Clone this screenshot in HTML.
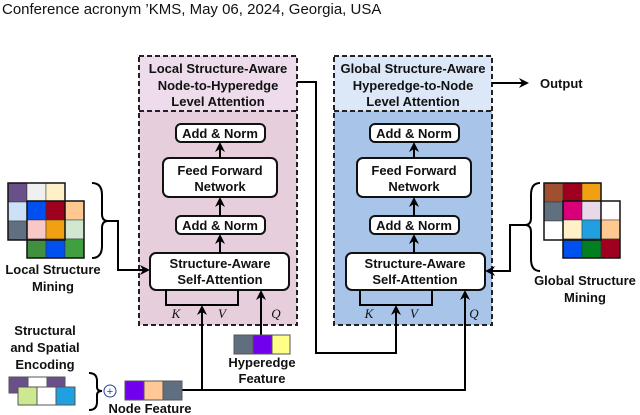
<!DOCTYPE html>
<html><head><meta charset="utf-8"><style>
body{margin:0;background:#fff}
svg{display:block}
text{font-family:"Liberation Sans",sans-serif;font-weight:bold;font-size:13px;fill:#111;text-anchor:middle}
.it{font-family:"Liberation Serif",serif;font-style:italic;font-weight:normal;font-size:13px}
</style></head><body>
<svg width="640" height="415" viewBox="0 0 640 415" xmlns="http://www.w3.org/2000/svg">
<defs><marker id="a" markerWidth="10" markerHeight="10" refX="8" refY="5" orient="auto" markerUnits="userSpaceOnUse"><path d="M0,0 L10,5 L0,10 L3,5z" fill="#000"/></marker></defs>
<text x="2" y="14" style="text-anchor:start;font-weight:normal;font-size:15px;font-family:'Liberation Sans',sans-serif">Conference acronym ’KMS, May 06, 2024, Georgia, USA</text>

<rect x="139" y="56" width="158" height="55" fill="#eedcec"/>
<rect x="139" y="111" width="158" height="214" fill="#e6cedd"/>
<rect x="139" y="56" width="158" height="269" fill="none" stroke="#222" stroke-width="2" stroke-dasharray="5,3"/>
<line x1="139" y1="111" x2="297" y2="111" stroke="#222" stroke-width="2" stroke-dasharray="5,3"/>
<rect x="334" y="56" width="158" height="55" fill="#dce8f8"/>
<rect x="334" y="111" width="158" height="214" fill="#a8c4e8"/>
<rect x="334" y="56" width="158" height="269" fill="none" stroke="#222" stroke-width="2" stroke-dasharray="5,3"/>
<line x1="334" y1="111" x2="492" y2="111" stroke="#222" stroke-width="2" stroke-dasharray="5,3"/>

<text x="218" y="73">Local Structure-Aware</text>
<text x="218" y="90">Node-to-Hyperedge</text>
<text x="218" y="106">Level Attention</text>
<text x="413" y="73">Global Structure-Aware</text>
<text x="413" y="90">Hyperedge-to-Node</text>
<text x="413" y="106">Level Attention</text>

<g stroke="#111" stroke-width="2" fill="#fff">
<rect x="176" y="124" width="89" height="18" rx="5"/>
<rect x="163" y="158" width="114" height="39" rx="6"/>
<rect x="176" y="216" width="89" height="18" rx="5"/>
<rect x="150" y="253" width="139" height="37" rx="6"/>
<rect x="370" y="124" width="89" height="18" rx="5"/>
<rect x="357" y="158" width="114" height="39" rx="6"/>
<rect x="370" y="216" width="89" height="18" rx="5"/>
<rect x="346" y="253" width="139" height="37" rx="6"/>
</g>
<text x="220" y="138">Add &amp; Norm</text>
<text x="220" y="175">Feed Forward</text>
<text x="220" y="191">Network</text>
<text x="220" y="230">Add &amp; Norm</text>
<text x="220" y="268">Structure-Aware</text>
<text x="220" y="284">Self-Attention</text>
<text x="414" y="138">Add &amp; Norm</text>
<text x="414" y="175">Feed Forward</text>
<text x="414" y="191">Network</text>
<text x="414" y="230">Add &amp; Norm</text>
<text x="415" y="268">Structure-Aware</text>
<text x="415" y="284">Self-Attention</text>

<g stroke="#000" stroke-width="2" fill="none">
<line x1="220" y1="216" x2="220" y2="199" marker-end="url(#a)"/>
<line x1="220" y1="158" x2="220" y2="144" marker-end="url(#a)"/>
<line x1="220" y1="253" x2="220" y2="236" marker-end="url(#a)"/>
<line x1="414" y1="216" x2="414" y2="199" marker-end="url(#a)"/>
<line x1="414" y1="158" x2="414" y2="144" marker-end="url(#a)"/>
<line x1="414" y1="253" x2="414" y2="236" marker-end="url(#a)"/>
<path d="M166 290 V305 H238 V290"/>
<path d="M360 290 V305 H432 V290"/>
<line x1="202" y1="390" x2="202" y2="307" marker-end="url(#a)"/>
<line x1="261" y1="335" x2="261" y2="292" marker-end="url(#a)"/>
<path d="M182 390 H465 V292" marker-end="url(#a)"/>
<path d="M297 82 H316 V353 H396 V307" marker-end="url(#a)"/>
<line x1="492" y1="83" x2="527" y2="83" marker-end="url(#a)"/>
<path d="M92 183 Q102 183 102 195 V214 Q102 221 108 221 Q102 221 102 228 V246 Q102 258 92 258"/>
<path d="M108 221 H118 V270 H148" marker-end="url(#a)"/>
<path d="M540 183 Q531 183 531 195 V218 Q531 225 525 225 Q531 225 531 232 V259 Q531 271 540 271"/>
<path d="M525 225 H510 V271 H487" marker-end="url(#a)"/>
<path d="M89 373 Q97 373 97 381 V387 Q97 391 102 391 Q97 391 97 395 V402 Q97 410 89 410"/>
</g>
<text x="540" y="88" style="text-anchor:start">Output</text>
<text class="it" x="176" y="318">K</text>
<text class="it" x="222" y="318">V</text>
<text class="it" x="276" y="318">Q</text>
<text class="it" x="369" y="318">K</text>
<text class="it" x="414" y="318">V</text>
<text class="it" x="474" y="318">Q</text>

<g stroke="#555" stroke-width="1">
<rect x="234" y="335" width="19" height="19" fill="#5f6f80"/>
<rect x="253" y="335" width="19" height="19" fill="#7000ee"/>
<rect x="272" y="335" width="18" height="19" fill="#ffff88"/>
<rect x="125" y="381" width="19" height="19" fill="#7000ee"/>
<rect x="144" y="381" width="19" height="19" fill="#ffc896"/>
<rect x="163" y="381" width="19" height="19" fill="#5f6f80"/>
<rect x="9" y="377" width="19" height="16" fill="#6a5088"/>
<rect x="28" y="377" width="19" height="16" fill="#fff"/>
<rect x="47" y="377" width="18" height="16" fill="#6a5088"/>
<rect x="18" y="387" width="19" height="18" fill="#cce890"/>
<rect x="37" y="387" width="19" height="18" fill="#fff"/>
<rect x="56" y="387" width="19" height="18" fill="#20a0e0"/>
</g>
<text x="262" y="367">Hyperedge</text>
<text x="262" y="383">Feature</text>
<text x="150" y="413">Node Feature</text>
<text x="45" y="335">Structural</text>
<text x="45" y="352">and Spatial</text>
<text x="45" y="369">Encoding</text>
<circle cx="110" cy="391" r="6" fill="#fff" stroke="#2040a0" stroke-width="1"/>
<text x="110" y="395" style="font-size:11px;fill:#2040a0;font-weight:normal">+</text>

<g stroke="#333" stroke-width="0.5">
<rect x="8" y="183" width="19" height="19" fill="#6a5088"/>
<rect x="27" y="183" width="19" height="19" fill="#f0f0f0"/>
<rect x="46" y="183" width="19" height="19" fill="#fff0c8"/>
<rect x="8" y="202" width="19" height="19" fill="#cce0f8"/>
<rect x="8" y="221" width="19" height="19" fill="#607080"/>
<rect x="27" y="201" width="19" height="19" fill="#0050f0"/>
<rect x="46" y="201" width="19" height="19" fill="#a00020"/>
<rect x="65" y="201" width="19" height="19" fill="#ffc890"/>
<rect x="27" y="220" width="19" height="19" fill="#f8c8c8"/>
<rect x="46" y="220" width="19" height="19" fill="#f0a010"/>
<rect x="65" y="220" width="19" height="19" fill="#d0e8d0"/>
<rect x="27" y="239" width="19" height="19" fill="#409040"/>
<rect x="46" y="239" width="19" height="19" fill="#0050f0"/>
<rect x="65" y="239" width="19" height="19" fill="#40a040"/>
</g>
<rect x="8" y="183" width="57" height="57" fill="none" stroke="#111" stroke-width="1.5"/>
<rect x="27" y="201" width="57" height="57" fill="none" stroke="#111" stroke-width="1.5"/>
<text x="53" y="274">Local Structure</text>
<text x="53" y="291">Mining</text>

<g stroke="#333" stroke-width="0.5">
<rect x="544" y="183" width="19" height="19" fill="#a05030"/>
<rect x="563" y="183" width="19" height="19" fill="#a00020"/>
<rect x="582" y="183" width="19" height="19" fill="#f0a010"/>
<rect x="544" y="202" width="19" height="19" fill="#607080"/>
<rect x="544" y="221" width="19" height="19" fill="#fff"/>
<rect x="563" y="201" width="19" height="19" fill="#d80078"/>
<rect x="582" y="201" width="19" height="19" fill="#e8d8e8"/>
<rect x="601" y="201" width="19" height="19" fill="#fff"/>
<rect x="563" y="220" width="19" height="19" fill="#fff0c8"/>
<rect x="582" y="220" width="19" height="19" fill="#20a0e0"/>
<rect x="601" y="220" width="19" height="19" fill="#ffc890"/>
<rect x="563" y="239" width="19" height="19" fill="#0050f0"/>
<rect x="582" y="239" width="19" height="19" fill="#008020"/>
<rect x="601" y="239" width="19" height="19" fill="#a00020"/>
</g>
<rect x="544" y="183" width="57" height="57" fill="none" stroke="#111" stroke-width="1.5"/>
<rect x="563" y="201" width="57" height="57" fill="none" stroke="#111" stroke-width="1.5"/>
<text x="585" y="285">Global Structure</text>
<text x="585" y="302">Mining</text>
</svg>
</body></html>
